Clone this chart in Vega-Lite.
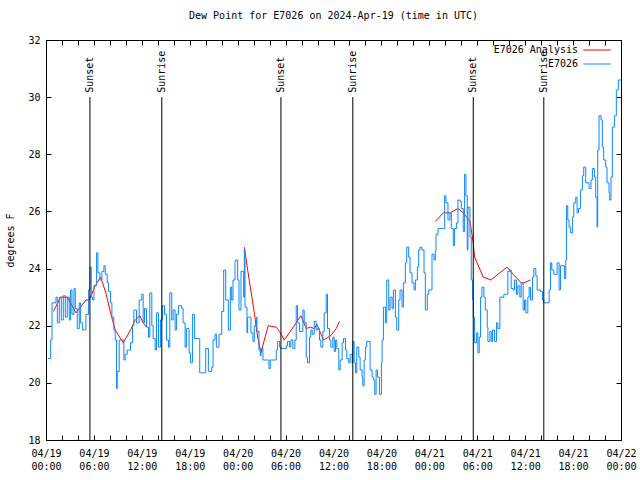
{
"$schema": "https://vega.github.io/schema/vega-lite/v6.json",
"width": 575, "height": 400,
"autosize": "none",
"padding": {"left": 46, "top": 40, "right": 19, "bottom": 40},
"background": "white",
"title": {"text": "Dew Point for E7026 on 2024-Apr-19 (time in UTC)", "font": "DejaVu Sans Mono", "fontSize": 10, "fontWeight": "normal", "color": "black", "anchor": "middle", "frame": "group", "offset": 14},
"config": {
  "view": {"stroke": "black", "strokeWidth": 1},
  "axis": {"grid": false, "domain": false, "labelFont": "DejaVu Sans Mono", "labelFontSize": 10, "labelColor": "black", "tickColor": "black", "titleFont": "DejaVu Sans Mono", "titleFontSize": 10, "titleFontWeight": "normal", "titleColor": "black"},
  "text": {"font": "DejaVu Sans Mono", "fontSize": 10}
},
"datasets": {
"obs": [
{"t":"2024-04-19T00:15:00Z","v":20.85},{"t":"2024-04-19T00:35:00Z","v":21.5},{"t":"2024-04-19T00:45:00Z","v":22.8},{"t":"2024-04-19T01:15:00Z","v":23.0},{"t":"2024-04-19T01:25:00Z","v":22.1},{"t":"2024-04-19T01:40:00Z","v":23.0},{"t":"2024-04-19T01:55:00Z","v":22.2},{"t":"2024-04-19T02:10:00Z","v":23.05},{"t":"2024-04-19T02:25:00Z","v":22.3},{"t":"2024-04-19T02:40:00Z","v":23.0},{"t":"2024-04-19T02:55:00Z","v":22.2},{"t":"2024-04-19T03:05:00Z","v":23.25},{"t":"2024-04-19T03:15:00Z","v":22.4},{"t":"2024-04-19T03:30:00Z","v":23.3},{"t":"2024-04-19T03:40:00Z","v":22.6},{"t":"2024-04-19T03:55:00Z","v":21.9},{"t":"2024-04-19T04:10:00Z","v":22.8},{"t":"2024-04-19T04:20:00Z","v":22.1},{"t":"2024-04-19T04:35:00Z","v":21.85},{"t":"2024-04-19T05:00:00Z","v":22.4},{"t":"2024-04-19T05:20:00Z","v":23.25},{"t":"2024-04-19T05:30:00Z","v":24.05},{"t":"2024-04-19T05:40:00Z","v":23.0},{"t":"2024-04-19T05:50:00Z","v":22.9},{"t":"2024-04-19T06:00:00Z","v":23.4},{"t":"2024-04-19T06:20:00Z","v":24.55},{"t":"2024-04-19T06:30:00Z","v":23.85},{"t":"2024-04-19T06:45:00Z","v":23.6},{"t":"2024-04-19T07:00:00Z","v":23.9},{"t":"2024-04-19T07:15:00Z","v":24.1},{"t":"2024-04-19T07:25:00Z","v":23.8},{"t":"2024-04-19T07:40:00Z","v":23.5},{"t":"2024-04-19T07:50:00Z","v":23.2},{"t":"2024-04-19T08:05:00Z","v":22.8},{"t":"2024-04-19T08:15:00Z","v":22.3},{"t":"2024-04-19T08:30:00Z","v":21.85},{"t":"2024-04-19T08:40:00Z","v":21.5},{"t":"2024-04-19T08:50:00Z","v":19.8},{"t":"2024-04-19T08:55:00Z","v":20.4},{"t":"2024-04-19T09:10:00Z","v":21.5},{"t":"2024-04-19T09:30:00Z","v":21.5},{"t":"2024-04-19T09:45:00Z","v":20.8},{"t":"2024-04-19T09:55:00Z","v":21.0},{"t":"2024-04-19T10:10:00Z","v":21.15},{"t":"2024-04-19T10:35:00Z","v":21.4},{"t":"2024-04-19T10:50:00Z","v":22.0},{"t":"2024-04-19T11:00:00Z","v":22.55},{"t":"2024-04-19T11:20:00Z","v":22.1},{"t":"2024-04-19T11:40:00Z","v":22.9},{"t":"2024-04-19T12:00:00Z","v":23.1},{"t":"2024-04-19T12:10:00Z","v":22.1},{"t":"2024-04-19T12:20:00Z","v":22.6},{"t":"2024-04-19T12:35:00Z","v":21.95},{"t":"2024-04-19T12:50:00Z","v":21.6},{"t":"2024-04-19T13:00:00Z","v":23.15},{"t":"2024-04-19T13:15:00Z","v":22.0},{"t":"2024-04-19T13:25:00Z","v":21.55},{"t":"2024-04-19T13:40:00Z","v":21.15},{"t":"2024-04-19T13:50:00Z","v":22.45},{"t":"2024-04-19T14:05:00Z","v":21.25},{"t":"2024-04-19T14:20:00Z","v":22.2},{"t":"2024-04-19T14:35:00Z","v":22.7},{"t":"2024-04-19T14:50:00Z","v":22.4},{"t":"2024-04-19T15:05:00Z","v":21.5},{"t":"2024-04-19T15:20:00Z","v":21.25},{"t":"2024-04-19T15:30:00Z","v":23.15},{"t":"2024-04-19T15:45:00Z","v":22.2},{"t":"2024-04-19T15:55:00Z","v":22.55},{"t":"2024-04-19T16:10:00Z","v":21.85},{"t":"2024-04-19T16:20:00Z","v":22.4},{"t":"2024-04-19T16:35:00Z","v":22.7},{"t":"2024-04-19T17:00:00Z","v":22.6},{"t":"2024-04-19T17:10:00Z","v":22.1},{"t":"2024-04-19T17:25:00Z","v":21.25},{"t":"2024-04-19T17:35:00Z","v":21.9},{"t":"2024-04-19T17:55:00Z","v":21.05},{"t":"2024-04-19T18:05:00Z","v":20.7},{"t":"2024-04-19T18:20:00Z","v":22.4},{"t":"2024-04-19T18:35:00Z","v":21.55},{"t":"2024-04-19T19:00:00Z","v":21.55},{"t":"2024-04-19T19:15:00Z","v":20.35},{"t":"2024-04-19T19:40:00Z","v":20.35},{"t":"2024-04-19T20:00:00Z","v":21.2},{"t":"2024-04-19T20:20:00Z","v":20.4},{"t":"2024-04-19T20:45:00Z","v":20.55},{"t":"2024-04-19T20:55:00Z","v":21.5},{"t":"2024-04-19T21:10:00Z","v":21.7},{"t":"2024-04-19T21:20:00Z","v":21.25},{"t":"2024-04-19T21:40:00Z","v":21.7},{"t":"2024-04-19T22:00:00Z","v":22.5},{"t":"2024-04-19T22:15:00Z","v":23.95},{"t":"2024-04-19T22:30:00Z","v":22.9},{"t":"2024-04-19T22:50:00Z","v":21.85},{"t":"2024-04-19T23:05:00Z","v":23.35},{"t":"2024-04-19T23:15:00Z","v":22.9},{"t":"2024-04-19T23:25:00Z","v":23.6},{"t":"2024-04-19T23:40:00Z","v":24.25},{"t":"2024-04-19T23:45:00Z","v":24.3},
{"t":"2024-04-20T00:00:00Z","v":23.6},{"t":"2024-04-20T00:10:00Z","v":22.55},{"t":"2024-04-20T00:25:00Z","v":23.9},{"t":"2024-04-20T00:40:00Z","v":23.9},{"t":"2024-04-20T00:45:00Z","v":23.0},{"t":"2024-04-20T00:50:00Z","v":24.65},{"t":"2024-04-20T00:55:00Z","v":22.65},{"t":"2024-04-20T01:10:00Z","v":21.75},{"t":"2024-04-20T01:15:00Z","v":22.3},{"t":"2024-04-20T01:30:00Z","v":22.3},{"t":"2024-04-20T01:40:00Z","v":21.75},{"t":"2024-04-20T01:55:00Z","v":21.45},{"t":"2024-04-20T02:05:00Z","v":22.0},{"t":"2024-04-20T02:20:00Z","v":22.3},{"t":"2024-04-20T02:25:00Z","v":21.8},{"t":"2024-04-20T02:40:00Z","v":21.15},{"t":"2024-04-20T02:50:00Z","v":20.95},{"t":"2024-04-20T02:55:00Z","v":21.2},{"t":"2024-04-20T03:10:00Z","v":20.8},{"t":"2024-04-20T03:45:00Z","v":20.8},{"t":"2024-04-20T03:55:00Z","v":20.5},{"t":"2024-04-20T04:05:00Z","v":20.8},{"t":"2024-04-20T04:35:00Z","v":20.8},{"t":"2024-04-20T04:50:00Z","v":21.15},{"t":"2024-04-20T05:00:00Z","v":21.45},{"t":"2024-04-20T05:15:00Z","v":21.25},{"t":"2024-04-20T05:25:00Z","v":21.2},{"t":"2024-04-20T05:50:00Z","v":21.2},{"t":"2024-04-20T06:05:00Z","v":21.3},{"t":"2024-04-20T06:15:00Z","v":21.45},{"t":"2024-04-20T06:30:00Z","v":21.25},{"t":"2024-04-20T06:40:00Z","v":21.5},{"t":"2024-04-20T06:55:00Z","v":21.2},{"t":"2024-04-20T07:10:00Z","v":21.5},{"t":"2024-04-20T07:20:00Z","v":22.7},{"t":"2024-04-20T07:30:00Z","v":22.1},{"t":"2024-04-20T07:45:00Z","v":21.8},{"t":"2024-04-20T08:10:00Z","v":22.55},{"t":"2024-04-20T08:20:00Z","v":22.1},{"t":"2024-04-20T08:35:00Z","v":20.9},{"t":"2024-04-20T08:45:00Z","v":20.7},{"t":"2024-04-20T09:00:00Z","v":21.6},{"t":"2024-04-20T09:10:00Z","v":21.85},{"t":"2024-04-20T09:20:00Z","v":21.7},{"t":"2024-04-20T09:35:00Z","v":22.15},{"t":"2024-04-20T09:50:00Z","v":21.85},{"t":"2024-04-20T10:00:00Z","v":21.9},{"t":"2024-04-20T10:15:00Z","v":21.5},{"t":"2024-04-20T10:25:00Z","v":21.25},{"t":"2024-04-20T10:40:00Z","v":21.8},{"t":"2024-04-20T10:50:00Z","v":22.45},{"t":"2024-04-20T11:05:00Z","v":23.1},{"t":"2024-04-20T11:15:00Z","v":21.9},{"t":"2024-04-20T11:30:00Z","v":21.5},{"t":"2024-04-20T11:40:00Z","v":21.25},{"t":"2024-04-20T11:55:00Z","v":21.6},{"t":"2024-04-20T12:05:00Z","v":21.1},{"t":"2024-04-20T12:15:00Z","v":21.5},{"t":"2024-04-20T12:25:00Z","v":21.2},{"t":"2024-04-20T12:40:00Z","v":20.45},{"t":"2024-04-20T12:50:00Z","v":20.8},{"t":"2024-04-20T13:05:00Z","v":21.4},{"t":"2024-04-20T13:15:00Z","v":21.55},{"t":"2024-04-20T13:30:00Z","v":21.15},{"t":"2024-04-20T13:40:00Z","v":20.85},{"t":"2024-04-20T13:55:00Z","v":20.7},{"t":"2024-04-20T14:05:00Z","v":21.0},{"t":"2024-04-20T14:20:00Z","v":20.7},{"t":"2024-04-20T14:25:00Z","v":21.45},{"t":"2024-04-20T14:35:00Z","v":20.7},{"t":"2024-04-20T14:45:00Z","v":20.35},{"t":"2024-04-20T14:55:00Z","v":21.25},{"t":"2024-04-20T15:10:00Z","v":20.9},{"t":"2024-04-20T15:20:00Z","v":20.45},{"t":"2024-04-20T15:35:00Z","v":20.2},{"t":"2024-04-20T15:40:00Z","v":19.9},{"t":"2024-04-20T15:50:00Z","v":20.8},{"t":"2024-04-20T16:00:00Z","v":21.25},{"t":"2024-04-20T16:10:00Z","v":21.45},{"t":"2024-04-20T16:30:00Z","v":21.45},{"t":"2024-04-20T16:35:00Z","v":20.45},{"t":"2024-04-20T16:50:00Z","v":20.2},{"t":"2024-04-20T17:00:00Z","v":20.1},{"t":"2024-04-20T17:10:00Z","v":19.6},{"t":"2024-04-20T17:20:00Z","v":20.45},{"t":"2024-04-20T17:30:00Z","v":20.2},{"t":"2024-04-20T17:45:00Z","v":19.6},{"t":"2024-04-20T18:00:00Z","v":20.7},{"t":"2024-04-20T18:05:00Z","v":21.5},{"t":"2024-04-20T18:15:00Z","v":22.65},{"t":"2024-04-20T18:30:00Z","v":22.1},{"t":"2024-04-20T18:40:00Z","v":23.6},{"t":"2024-04-20T18:55:00Z","v":22.55},{"t":"2024-04-20T19:05:00Z","v":23.0},{"t":"2024-04-20T19:20:00Z","v":22.6},{"t":"2024-04-20T19:30:00Z","v":23.25},{"t":"2024-04-20T19:45:00Z","v":22.3},{"t":"2024-04-20T19:55:00Z","v":21.85},{"t":"2024-04-20T20:10:00Z","v":22.9},{"t":"2024-04-20T20:20:00Z","v":23.25},{"t":"2024-04-20T20:35:00Z","v":22.65},{"t":"2024-04-20T20:45:00Z","v":23.5},{"t":"2024-04-20T21:00:00Z","v":24.2},{"t":"2024-04-20T21:10:00Z","v":24.75},{"t":"2024-04-20T21:25:00Z","v":24.4},{"t":"2024-04-20T21:35:00Z","v":23.85},{"t":"2024-04-20T21:50:00Z","v":23.5},{"t":"2024-04-20T22:05:00Z","v":23.25},{"t":"2024-04-20T22:15:00Z","v":23.6},{"t":"2024-04-20T22:30:00Z","v":24.05},{"t":"2024-04-20T22:40:00Z","v":24.65},{"t":"2024-04-20T22:50:00Z","v":24.75},{"t":"2024-04-20T23:05:00Z","v":24.65},{"t":"2024-04-20T23:20:00Z","v":23.85},{"t":"2024-04-20T23:30:00Z","v":22.55},{"t":"2024-04-20T23:45:00Z","v":23.1},{"t":"2024-04-20T23:55:00Z","v":23.25},
{"t":"2024-04-21T00:15:00Z","v":23.25},{"t":"2024-04-21T00:20:00Z","v":24.5},{"t":"2024-04-21T00:35:00Z","v":24.3},{"t":"2024-04-21T00:45:00Z","v":24.6},{"t":"2024-04-21T00:50:00Z","v":25.2},{"t":"2024-04-21T01:05:00Z","v":25.4},{"t":"2024-04-21T01:45:00Z","v":25.4},{"t":"2024-04-21T01:55:00Z","v":26.55},{"t":"2024-04-21T02:05:00Z","v":26.3},{"t":"2024-04-21T02:20:00Z","v":25.7},{"t":"2024-04-21T02:35:00Z","v":25.95},{"t":"2024-04-21T02:45:00Z","v":25.4},{"t":"2024-04-21T03:00:00Z","v":24.8},{"t":"2024-04-21T03:10:00Z","v":25.4},{"t":"2024-04-21T03:25:00Z","v":25.6},{"t":"2024-04-21T03:35:00Z","v":26.4},{"t":"2024-04-21T03:50:00Z","v":26.35},{"t":"2024-04-21T04:00:00Z","v":26.1},{"t":"2024-04-21T04:15:00Z","v":25.3},{"t":"2024-04-21T04:25:00Z","v":27.3},{"t":"2024-04-21T04:35:00Z","v":26.55},{"t":"2024-04-21T04:45:00Z","v":24.65},{"t":"2024-04-21T04:50:00Z","v":26.15},{"t":"2024-04-21T05:05:00Z","v":25.1},{"t":"2024-04-21T05:15:00Z","v":23.6},{"t":"2024-04-21T05:25:00Z","v":22.9},{"t":"2024-04-21T05:30:00Z","v":22.3},{"t":"2024-04-21T05:40:00Z","v":21.4},{"t":"2024-04-21T05:55:00Z","v":21.75},{"t":"2024-04-21T06:05:00Z","v":21.05},{"t":"2024-04-21T06:15:00Z","v":21.6},{"t":"2024-04-21T06:25:00Z","v":23.0},{"t":"2024-04-21T06:35:00Z","v":23.35},{"t":"2024-04-21T06:50:00Z","v":23.0},{"t":"2024-04-21T07:00:00Z","v":22.55},{"t":"2024-04-21T07:15:00Z","v":21.95},{"t":"2024-04-21T07:20:00Z","v":21.45},{"t":"2024-04-21T07:35:00Z","v":21.8},{"t":"2024-04-21T07:45:00Z","v":21.45},{"t":"2024-04-21T07:55:00Z","v":21.85},{"t":"2024-04-21T08:10:00Z","v":21.45},{"t":"2024-04-21T08:25:00Z","v":22.1},{"t":"2024-04-21T08:35:00Z","v":21.9},{"t":"2024-04-21T08:50:00Z","v":23.0},{"t":"2024-04-21T09:20:00Z","v":23.1},{"t":"2024-04-21T09:40:00Z","v":23.1},{"t":"2024-04-21T09:50:00Z","v":23.9},{"t":"2024-04-21T10:05:00Z","v":23.95},{"t":"2024-04-21T10:15:00Z","v":23.3},{"t":"2024-04-21T10:30:00Z","v":23.25},{"t":"2024-04-21T10:40:00Z","v":23.6},{"t":"2024-04-21T10:55:00Z","v":23.1},{"t":"2024-04-21T11:05:00Z","v":23.4},{"t":"2024-04-21T11:20:00Z","v":23.0},{"t":"2024-04-21T11:30:00Z","v":23.5},{"t":"2024-04-21T11:45:00Z","v":22.55},{"t":"2024-04-21T11:55:00Z","v":22.9},{"t":"2024-04-21T12:05:00Z","v":22.45},{"t":"2024-04-21T12:20:00Z","v":23.0},{"t":"2024-04-21T12:30:00Z","v":23.35},{"t":"2024-04-21T12:40:00Z","v":22.9},{"t":"2024-04-21T12:55:00Z","v":23.7},{"t":"2024-04-21T13:05:00Z","v":24.0},{"t":"2024-04-21T13:20:00Z","v":23.75},{"t":"2024-04-21T13:30:00Z","v":23.25},{"t":"2024-04-21T13:55:00Z","v":23.2},{"t":"2024-04-21T14:10:00Z","v":22.9},{"t":"2024-04-21T14:20:00Z","v":22.8},{"t":"2024-04-21T14:45:00Z","v":22.8},{"t":"2024-04-21T15:00:00Z","v":23.25},{"t":"2024-04-21T15:10:00Z","v":24.2},{"t":"2024-04-21T15:20:00Z","v":23.95},{"t":"2024-04-21T15:35:00Z","v":23.8},{"t":"2024-04-21T15:45:00Z","v":23.8},{"t":"2024-04-21T16:00:00Z","v":24.2},{"t":"2024-04-21T16:15:00Z","v":23.25},{"t":"2024-04-21T16:25:00Z","v":24.1},{"t":"2024-04-21T16:45:00Z","v":24.1},{"t":"2024-04-21T16:55:00Z","v":23.65},{"t":"2024-04-21T17:05:00Z","v":24.3},{"t":"2024-04-21T17:10:00Z","v":26.2},{"t":"2024-04-21T17:20:00Z","v":25.7},{"t":"2024-04-21T17:30:00Z","v":25.45},{"t":"2024-04-21T17:40:00Z","v":25.25},{"t":"2024-04-21T17:55:00Z","v":25.8},{"t":"2024-04-21T18:05:00Z","v":26.3},{"t":"2024-04-21T18:20:00Z","v":26.5},{"t":"2024-04-21T18:30:00Z","v":25.95},{"t":"2024-04-21T18:40:00Z","v":26.1},{"t":"2024-04-21T18:55:00Z","v":26.75},{"t":"2024-04-21T19:10:00Z","v":27.25},{"t":"2024-04-21T19:20:00Z","v":27.55},{"t":"2024-04-21T19:35:00Z","v":27.0},{"t":"2024-04-21T19:45:00Z","v":27.0},{"t":"2024-04-21T20:00:00Z","v":26.8},{"t":"2024-04-21T20:15:00Z","v":27.1},{"t":"2024-04-21T20:25:00Z","v":27.5},{"t":"2024-04-21T20:40:00Z","v":27.2},{"t":"2024-04-21T20:50:00Z","v":26.5},{"t":"2024-04-21T21:00:00Z","v":25.45},{"t":"2024-04-21T21:05:00Z","v":28.15},{"t":"2024-04-21T21:15:00Z","v":29.35},{"t":"2024-04-21T21:30:00Z","v":29.2},{"t":"2024-04-21T21:40:00Z","v":28.25},{"t":"2024-04-21T21:50:00Z","v":27.8},{"t":"2024-04-21T22:05:00Z","v":27.55},{"t":"2024-04-21T22:15:00Z","v":27.0},{"t":"2024-04-21T22:30:00Z","v":26.65},{"t":"2024-04-21T22:35:00Z","v":26.4},{"t":"2024-04-21T22:45:00Z","v":27.2},{"t":"2024-04-21T22:55:00Z","v":28.95},{"t":"2024-04-21T23:10:00Z","v":29.35},{"t":"2024-04-21T23:20:00Z","v":29.35},{"t":"2024-04-21T23:25:00Z","v":30.25},{"t":"2024-04-21T23:40:00Z","v":30.6},{"t":"2024-04-22T00:00:00Z","v":30.6}
],
"ana": [
{"t":"2024-04-19T00:55:00Z","v":22.5,"seg":1},{"t":"2024-04-19T01:50:00Z","v":23.0,"seg":1},{"t":"2024-04-19T02:40:00Z","v":23.0,"seg":1},{"t":"2024-04-19T03:45:00Z","v":22.45,"seg":1},{"t":"2024-04-19T05:00:00Z","v":22.9,"seg":1},{"t":"2024-04-19T05:25:00Z","v":22.9,"seg":1},{"t":"2024-04-19T06:10:00Z","v":23.4,"seg":1},{"t":"2024-04-19T06:50:00Z","v":23.7,"seg":1},{"t":"2024-04-19T07:30:00Z","v":23.15,"seg":1},{"t":"2024-04-19T08:05:00Z","v":22.45,"seg":1},{"t":"2024-04-19T08:40:00Z","v":21.85,"seg":1},{"t":"2024-04-19T09:40:00Z","v":21.4,"seg":1},{"t":"2024-04-19T10:35:00Z","v":21.85,"seg":1},{"t":"2024-04-19T11:10:00Z","v":22.2,"seg":1},{"t":"2024-04-19T11:45:00Z","v":22.35,"seg":1},{"t":"2024-04-19T12:10:00Z","v":22.1,"seg":1},{"t":"2024-04-19T12:35:00Z","v":21.95,"seg":1},
{"t":"2024-04-20T00:50:00Z","v":24.75,"seg":2},{"t":"2024-04-20T01:15:00Z","v":23.95,"seg":2},{"t":"2024-04-20T02:05:00Z","v":22.45,"seg":2},{"t":"2024-04-20T02:30:00Z","v":21.6,"seg":2},{"t":"2024-04-20T02:55:00Z","v":21.05,"seg":2},{"t":"2024-04-20T03:20:00Z","v":21.5,"seg":2},{"t":"2024-04-20T03:50:00Z","v":22.0,"seg":2},{"t":"2024-04-20T04:50:00Z","v":21.95,"seg":2},{"t":"2024-04-20T05:15:00Z","v":21.8,"seg":2},{"t":"2024-04-20T05:50:00Z","v":21.5,"seg":2},{"t":"2024-04-20T07:05:00Z","v":22.0,"seg":2},{"t":"2024-04-20T07:55:00Z","v":22.35,"seg":2},{"t":"2024-04-20T08:35:00Z","v":21.9,"seg":2},{"t":"2024-04-20T09:05:00Z","v":21.95,"seg":2},{"t":"2024-04-20T09:35:00Z","v":21.9,"seg":2},{"t":"2024-04-20T09:55:00Z","v":22.05,"seg":2},{"t":"2024-04-20T10:45:00Z","v":21.5,"seg":2},{"t":"2024-04-20T11:40:00Z","v":21.65,"seg":2},{"t":"2024-04-20T12:20:00Z","v":21.9,"seg":2},{"t":"2024-04-20T12:45:00Z","v":22.15,"seg":2},
{"t":"2024-04-21T00:45:00Z","v":25.65,"seg":3},{"t":"2024-04-21T01:45:00Z","v":25.95,"seg":3},{"t":"2024-04-21T02:35:00Z","v":25.95,"seg":3},{"t":"2024-04-21T03:35:00Z","v":26.1,"seg":3},{"t":"2024-04-21T04:15:00Z","v":25.95,"seg":3},{"t":"2024-04-21T05:05:00Z","v":25.65,"seg":3},{"t":"2024-04-21T05:30:00Z","v":24.9,"seg":3},{"t":"2024-04-21T05:40:00Z","v":24.4,"seg":3},{"t":"2024-04-21T06:45:00Z","v":23.7,"seg":3},{"t":"2024-04-21T07:45:00Z","v":23.6,"seg":3},{"t":"2024-04-21T08:35:00Z","v":23.8,"seg":3},{"t":"2024-04-21T09:45:00Z","v":24.05,"seg":3},{"t":"2024-04-21T10:30:00Z","v":23.8,"seg":3},{"t":"2024-04-21T11:30:00Z","v":23.5,"seg":3},{"t":"2024-04-21T11:50:00Z","v":23.5,"seg":3},{"t":"2024-04-21T12:40:00Z","v":23.6,"seg":3}
],
"sun": [
{"t":"2024-04-19T05:30:00Z","label":"Sunset"},{"t":"2024-04-19T14:30:00Z","label":"Sunrise"},{"t":"2024-04-20T05:25:00Z","label":"Sunset"},{"t":"2024-04-20T14:25:00Z","label":"Sunrise"},{"t":"2024-04-21T05:30:00Z","label":"Sunset"},{"t":"2024-04-21T14:20:00Z","label":"Sunrise"}
]
},
"layer": [
{
  "data": {"name": "ana"},
  "mark": {"type": "line", "strokeWidth": 1},
  "encoding": {
    "x": {"field": "t", "type": "temporal", "scale": {"type": "utc", "domain": [1713484800000, 1713744000000]}, "axis": null},
    "y": {"field": "v", "type": "quantitative", "scale": {"domain": [18, 32], "nice": false, "zero": false}, "axis": null},
    "detail": {"field": "seg", "type": "nominal"},
    "color": {"datum": "E7026 Analysis", "scale": {"domain": ["E7026 Analysis", "E7026"], "range": ["#ff0000", "#0d88ff"]},
      "legend": {"orient": "none", "legendX": 545, "legendY": 4, "title": null, "symbolType": "M-2.5,0H2.5", "symbolSize": 121, "symbolStrokeWidth": 1, "labelAlign": "right", "labelOffset": -25, "labelFont": "DejaVu Sans Mono", "labelFontSize": 10, "labelColor": "black", "rowPadding": 3, "padding": 0}}
  }
},
{
  "data": {"name": "obs"},
  "mark": {"type": "line", "strokeWidth": 1, "interpolate": "step-after"},
  "encoding": {
    "x": {"field": "t", "type": "temporal", "axis": {"values": [1713484800000,1713492000000,1713499200000,1713506400000,1713513600000,1713520800000,1713528000000,1713535200000,1713542400000,1713549600000,1713556800000,1713564000000,1713571200000,1713578400000,1713585600000,1713592800000,1713600000000,1713607200000,1713614400000,1713621600000,1713628800000,1713636000000,1713643200000,1713650400000,1713657600000,1713664800000,1713672000000,1713679200000,1713686400000,1713693600000,1713700800000,1713708000000,1713715200000,1713722400000,1713729600000,1713736800000,1713744000000], "tickSize": -5, "labelPadding": 13, "labelOverlap": false, "labelFlush": false, "labelBound": false, "labelLineHeight": 13, "labelBaseline": "top", "labelExpr": "utchours(datum.value) % 6 == 0 ? [utcFormat(datum.value, '%m/%d'), utcFormat(datum.value, '%H:%M')] : ''", "title": null}},
    "y": {"field": "v", "type": "quantitative", "axis": {"values": [18, 20, 22, 24, 26, 28, 30, 32], "tickSize": -5, "labelPadding": 11, "title": "degrees F", "titleX": -36, "titleY": 200, "titleAngle": 270, "titleAlign": "center", "titleBaseline": "middle"}},
    "color": {"datum": "E7026"}
  }
},
{
  "data": {"name": "sun"},
  "mark": {"type": "rule", "color": "black", "strokeWidth": 1},
  "encoding": {
    "x": {"field": "t", "type": "temporal", "axis": {"orient": "top", "labels": false, "title": null, "tickSize": -5, "values": [1713484800000,1713492000000,1713499200000,1713506400000,1713513600000,1713520800000,1713528000000,1713535200000,1713542400000,1713549600000,1713556800000,1713564000000,1713571200000,1713578400000,1713585600000,1713592800000,1713600000000,1713607200000,1713614400000,1713621600000,1713628800000,1713636000000,1713643200000,1713650400000,1713657600000,1713664800000,1713672000000,1713679200000,1713686400000,1713693600000,1713700800000,1713708000000,1713715200000,1713722400000,1713729600000,1713736800000,1713744000000]}},
    "y": {"datum": 30, "type": "quantitative", "axis": {"orient": "right", "labels": false, "title": null, "tickSize": -5, "values": [18, 20, 22, 24, 26, 28, 30, 32]}},
    "y2": {"datum": 18}
  }
},
{
  "data": {"name": "sun"},
  "mark": {"type": "text", "angle": 270, "align": "left", "baseline": "middle", "color": "black", "font": "DejaVu Sans Mono", "fontSize": 10},
  "encoding": {
    "x": {"field": "t", "type": "temporal", "axis": null},
    "y": {"datum": 30.15, "type": "quantitative", "axis": null},
    "text": {"field": "label"}
  }
}
],
"resolve": {"axis": {"x": "independent", "y": "independent"}}
}
